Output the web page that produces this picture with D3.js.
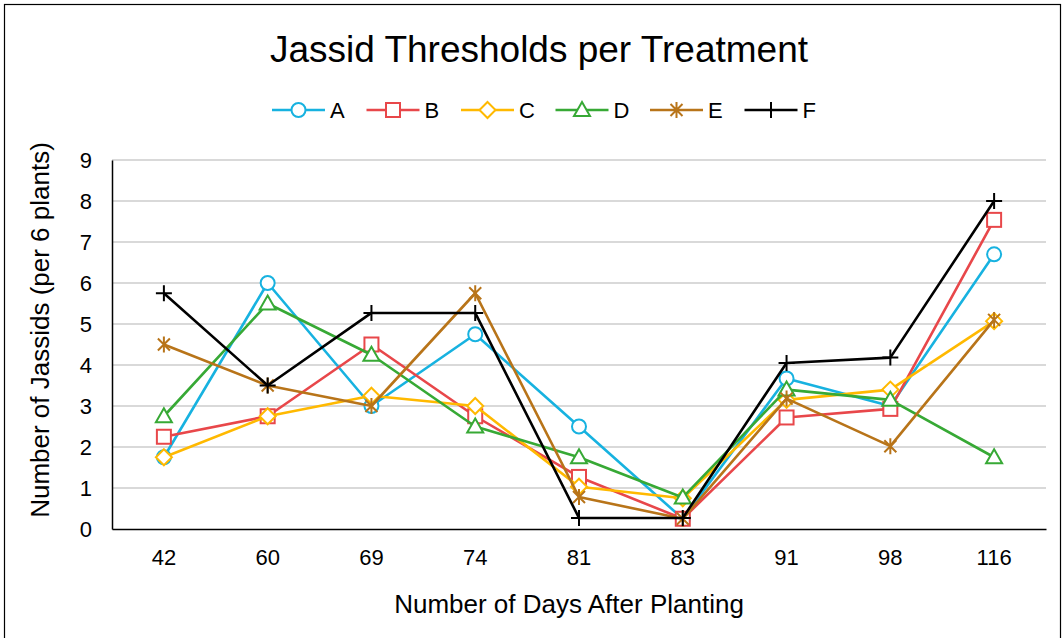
<!DOCTYPE html>
<html>
<head>
<meta charset="utf-8">
<script src="https://cdn.jsdelivr.net/npm/d3@7"></script>
<style>
  body { margin: 0; background: #fff; }
  svg { display: block; font-family: "Liberation Sans", Arial, sans-serif; }
</style>
</head>
<body>
<svg id="chart" width="1064" height="638"></svg>
<script>
'use strict';

var days = ['42', '60', '69', '74', '81', '83', '91', '98', '116'];
var seriesA = [1.75, 6.0, 3.0, 4.75, 2.5, 0.25, 3.67, 3.0, 6.7];
var seriesB = [2.25, 2.75, 4.5, 2.75, 1.27, 0.25, 2.72, 2.93, 7.54];
var seriesC = [1.75, 2.75, 3.25, 3.0, 1.03, 0.75, 3.15, 3.4, 5.07];
var seriesD = [2.75, 5.5, 4.25, 2.5, 1.75, 0.77, 3.4, 3.15, 1.75];
var seriesE = [4.5, 3.5, 3.0, 5.75, 0.78, 0.25, 3.18, 2.02, 5.1];
var seriesF = [5.75, 3.5, 5.27, 5.27, 0.27, 0.27, 4.05, 4.18, 8.0];
var yTicks = [0, 1, 2, 3, 4, 5, 6, 7, 8, 9];

var series = [
  { name: 'A', values: seriesA, color: '#17b2e0', marker: 'circle' },
  { name: 'B', values: seriesB, color: '#e8474a', marker: 'square' },
  { name: 'C', values: seriesC, color: '#ffb900', marker: 'diamond' },
  { name: 'D', values: seriesD, color: '#37a935', marker: 'triangle' },
  { name: 'E', values: seriesE, color: '#b87419', marker: 'asterisk' },
  { name: 'F', values: seriesF, color: '#000000', marker: 'plus' }
];

var svg = d3.select('#chart');
var plot = { left: 112, right: 1046, top: 160, bottom: 529 };

// outer frame
svg.append('rect')
  .attr('x', 4.5).attr('y', 4.5)
  .attr('width', 1056).attr('height', 640)
  .attr('fill', 'none').attr('stroke', '#000').attr('stroke-width', 1.2);

var x = d3.scaleBand().domain(days).range([plot.left, plot.right]);
var y = d3.scaleLinear().domain([0, 9]).range([plot.bottom, plot.top]);

// grid
svg.append('g').selectAll('line').data(yTicks.slice(1)).enter().append('line')
  .attr('x1', plot.left).attr('x2', plot.right)
  .attr('y1', function(d){ return y(d) }).attr('y2', function(d){ return y(d) })
  .attr('stroke', '#d9d9d9').attr('stroke-width', 2);

// y axis
var yAxis = svg.append('g')
  .attr('transform', 'translate(' + plot.left + ',0)')
  .call(d3.axisLeft(y).tickValues(yTicks).tickSize(0).tickPadding(20));
yAxis.select('.domain').attr('stroke', '#000').attr('stroke-width', 1.5);
yAxis.selectAll('text').attr('font-size', 22).attr('fill', '#000')
  .attr('font-family', '"Liberation Sans", Arial, sans-serif');

// x axis
var xAxis = svg.append('g')
  .attr('transform', 'translate(0,' + plot.bottom + ')')
  .call(d3.axisBottom(x).tickSize(0).tickPadding(20));
xAxis.select('.domain').attr('stroke', '#000').attr('stroke-width', 1.5);
xAxis.selectAll('text').attr('font-size', 22).attr('fill', '#000')
  .attr('font-family', '"Liberation Sans", Arial, sans-serif');

function cx(i){ return x(days[i]) + x.bandwidth() / 2 }

function drawMarker(g, type, color){
  var s = 7;
  if (type === 'circle') {
    g.append('circle').attr('r', s).attr('fill', '#fff').attr('stroke', color).attr('stroke-width', 2);
  } else if (type === 'square') {
    g.append('rect').attr('x', -s).attr('y', -s).attr('width', 2*s).attr('height', 2*s)
      .attr('fill', '#fff').attr('stroke', color).attr('stroke-width', 2);
  } else if (type === 'diamond') {
    g.append('path').attr('d', 'M0,-8L8,0L0,8L-8,0Z')
      .attr('fill', '#fff').attr('stroke', color).attr('stroke-width', 2);
  } else if (type === 'triangle') {
    g.append('path').attr('d', 'M0,-8L8,6L-8,6Z')
      .attr('fill', '#fff').attr('stroke', color).attr('stroke-width', 2);
  } else if (type === 'asterisk') {
    g.append('path').attr('d', 'M-6,-6L6,6M-6,6L6,-6M0,-8L0,8')
      .attr('stroke', color).attr('stroke-width', 2);
  } else if (type === 'plus') {
    g.append('path').attr('d', 'M-8,0L8,0M0,-8L0,8')
      .attr('stroke', color).attr('stroke-width', 2);
  }
}

var line = d3.line()
  .x(function(d, i){ return cx(i) })
  .y(function(d){ return y(d) });

series.forEach(function(s){
  var g = svg.append('g').attr('class', 'series-' + s.name);
  g.append('path').datum(s.values)
    .attr('d', line).attr('fill', 'none')
    .attr('stroke', s.color).attr('stroke-width', 2.6).attr('stroke-linejoin', 'round');
  g.selectAll('.mk').data(s.values).enter().append('g')
    .attr('class', 'mk')
    .attr('transform', function(d, i){ return 'translate(' + cx(i) + ',' + y(d) + ')' })
    .each(function(){ drawMarker(d3.select(this), s.marker, s.color) });
});

// title
svg.append('text').attr('x', 539).attr('y', 62).attr('text-anchor', 'middle')
  .attr('font-size', 37).attr('fill', '#000').text('Jassid Thresholds per Treatment');

// legend
var legend = svg.append('g').attr('transform', 'translate(272,110)');
series.forEach(function(s, i){
  var item = legend.append('g').attr('transform', 'translate(' + (i * 94.5) + ',0)');
  item.append('line').attr('x1', 0).attr('x2', 53).attr('y1', 0).attr('y2', 0)
    .attr('stroke', s.color).attr('stroke-width', 2.6);
  drawMarker(item.append('g').attr('transform', 'translate(26.5,0)'), s.marker, s.color);
  item.append('text').attr('x', 58).attr('y', 8).attr('font-size', 22).attr('fill', '#000').text(s.name);
});

// axis titles
svg.append('text').attr('x', 569).attr('y', 613).attr('text-anchor', 'middle')
  .attr('font-size', 26).attr('fill', '#000').text('Number of Days After Planting');
svg.append('text')
  .attr('transform', 'translate(49,330) rotate(-90)')
  .attr('text-anchor', 'middle')
  .attr('font-size', 26).attr('fill', '#000').text('Number of Jassids (per 6 plants)');
</script>
</body>
</html>
